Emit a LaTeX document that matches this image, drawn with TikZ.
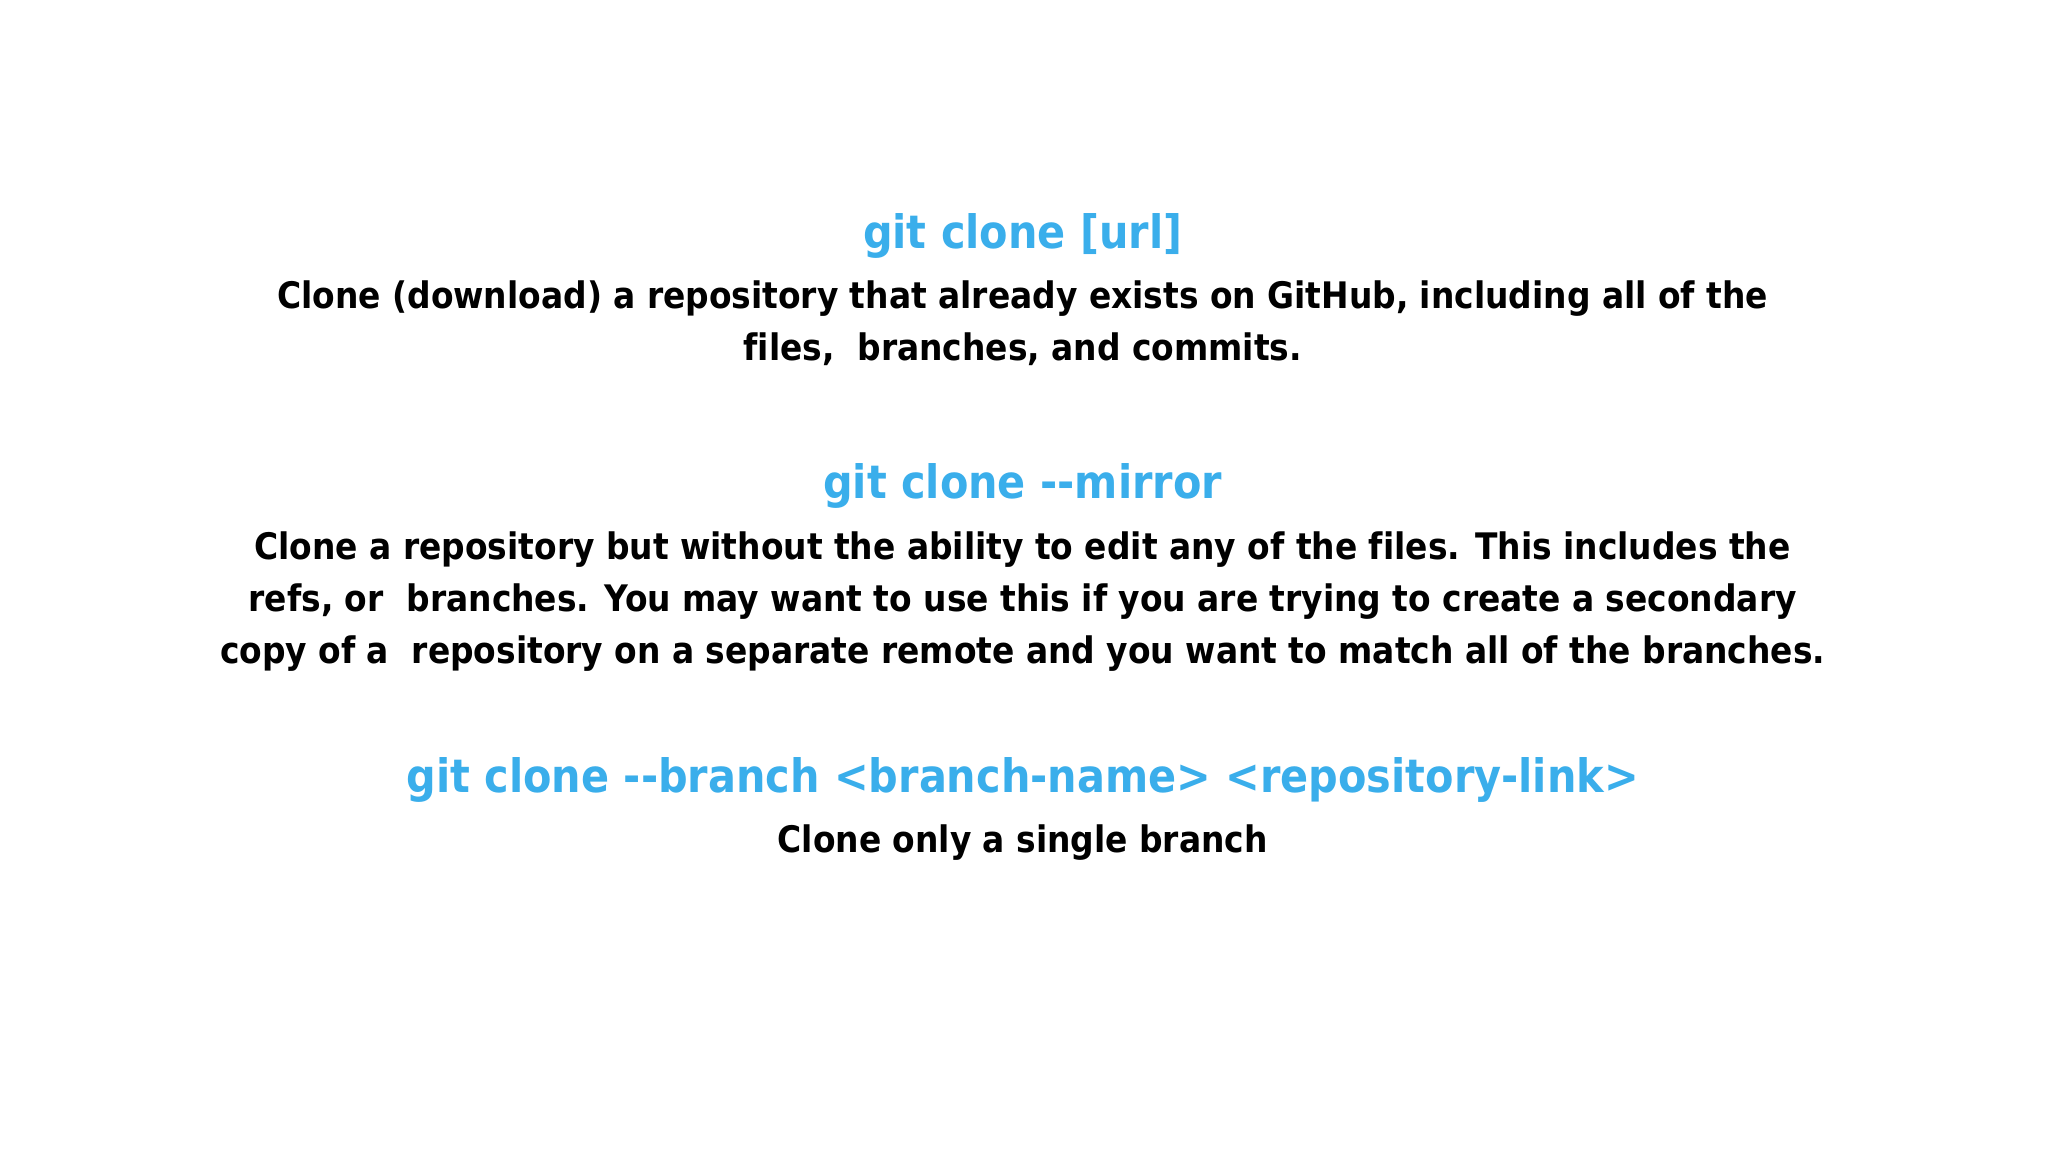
\documentclass[tikz,border=0pt]{standalone}
\usepackage{fontspec}
\setmainfont{DejaVu Sans Condensed}[BoldFont={DejaVu Sans Condensed Bold},Ligatures=NoCommon]
\definecolor{cmd}{HTML}{3AAEEB}
\tikzset{head/.style={text=cmd,font=\bfseries\fontsize{13.1}{16}\selectfont,inner sep=0pt,anchor=base},
 body/.style={text=black,font=\bfseries\fontsize{10.4}{13}\selectfont,inner sep=0pt,anchor=base}}
\begin{document}
\begin{tikzpicture}[x=0.01306cm,y=-0.01306cm]
\useasboundingbox[fill=white] (0,0) rectangle (1568,882);
\node[head] (h1) at (783,190) {git clone [url]};
\node[body] (b1a) at (783,236) {Clone (download) a repository that already exists on GitHub, including all of the};
\node[body] (b1b) at (783,276) {files,\ \ branches, and commits.};
\node[head] (h2) at (783,382) {git clone -{}-mirror};
\node[body] (b2a) at (783,428) {Clone a repository but without the ability to edit any of the files. This includes the};
\node[body] (b2b) at (783,468) {refs, or\ \ branches. You may want to use this if you are trying to create a secondary};
\node[body] (b2c) at (783,508) {copy of a\ \ repository on a separate remote and you want to match all of the branches.};
\node[head] (h3) at (783,607) {git clone -{}-branch <branch-name> <repository-link>};
\node[body] (b3) at (783,653) {Clone only a single branch};
\end{tikzpicture}
\end{document}
